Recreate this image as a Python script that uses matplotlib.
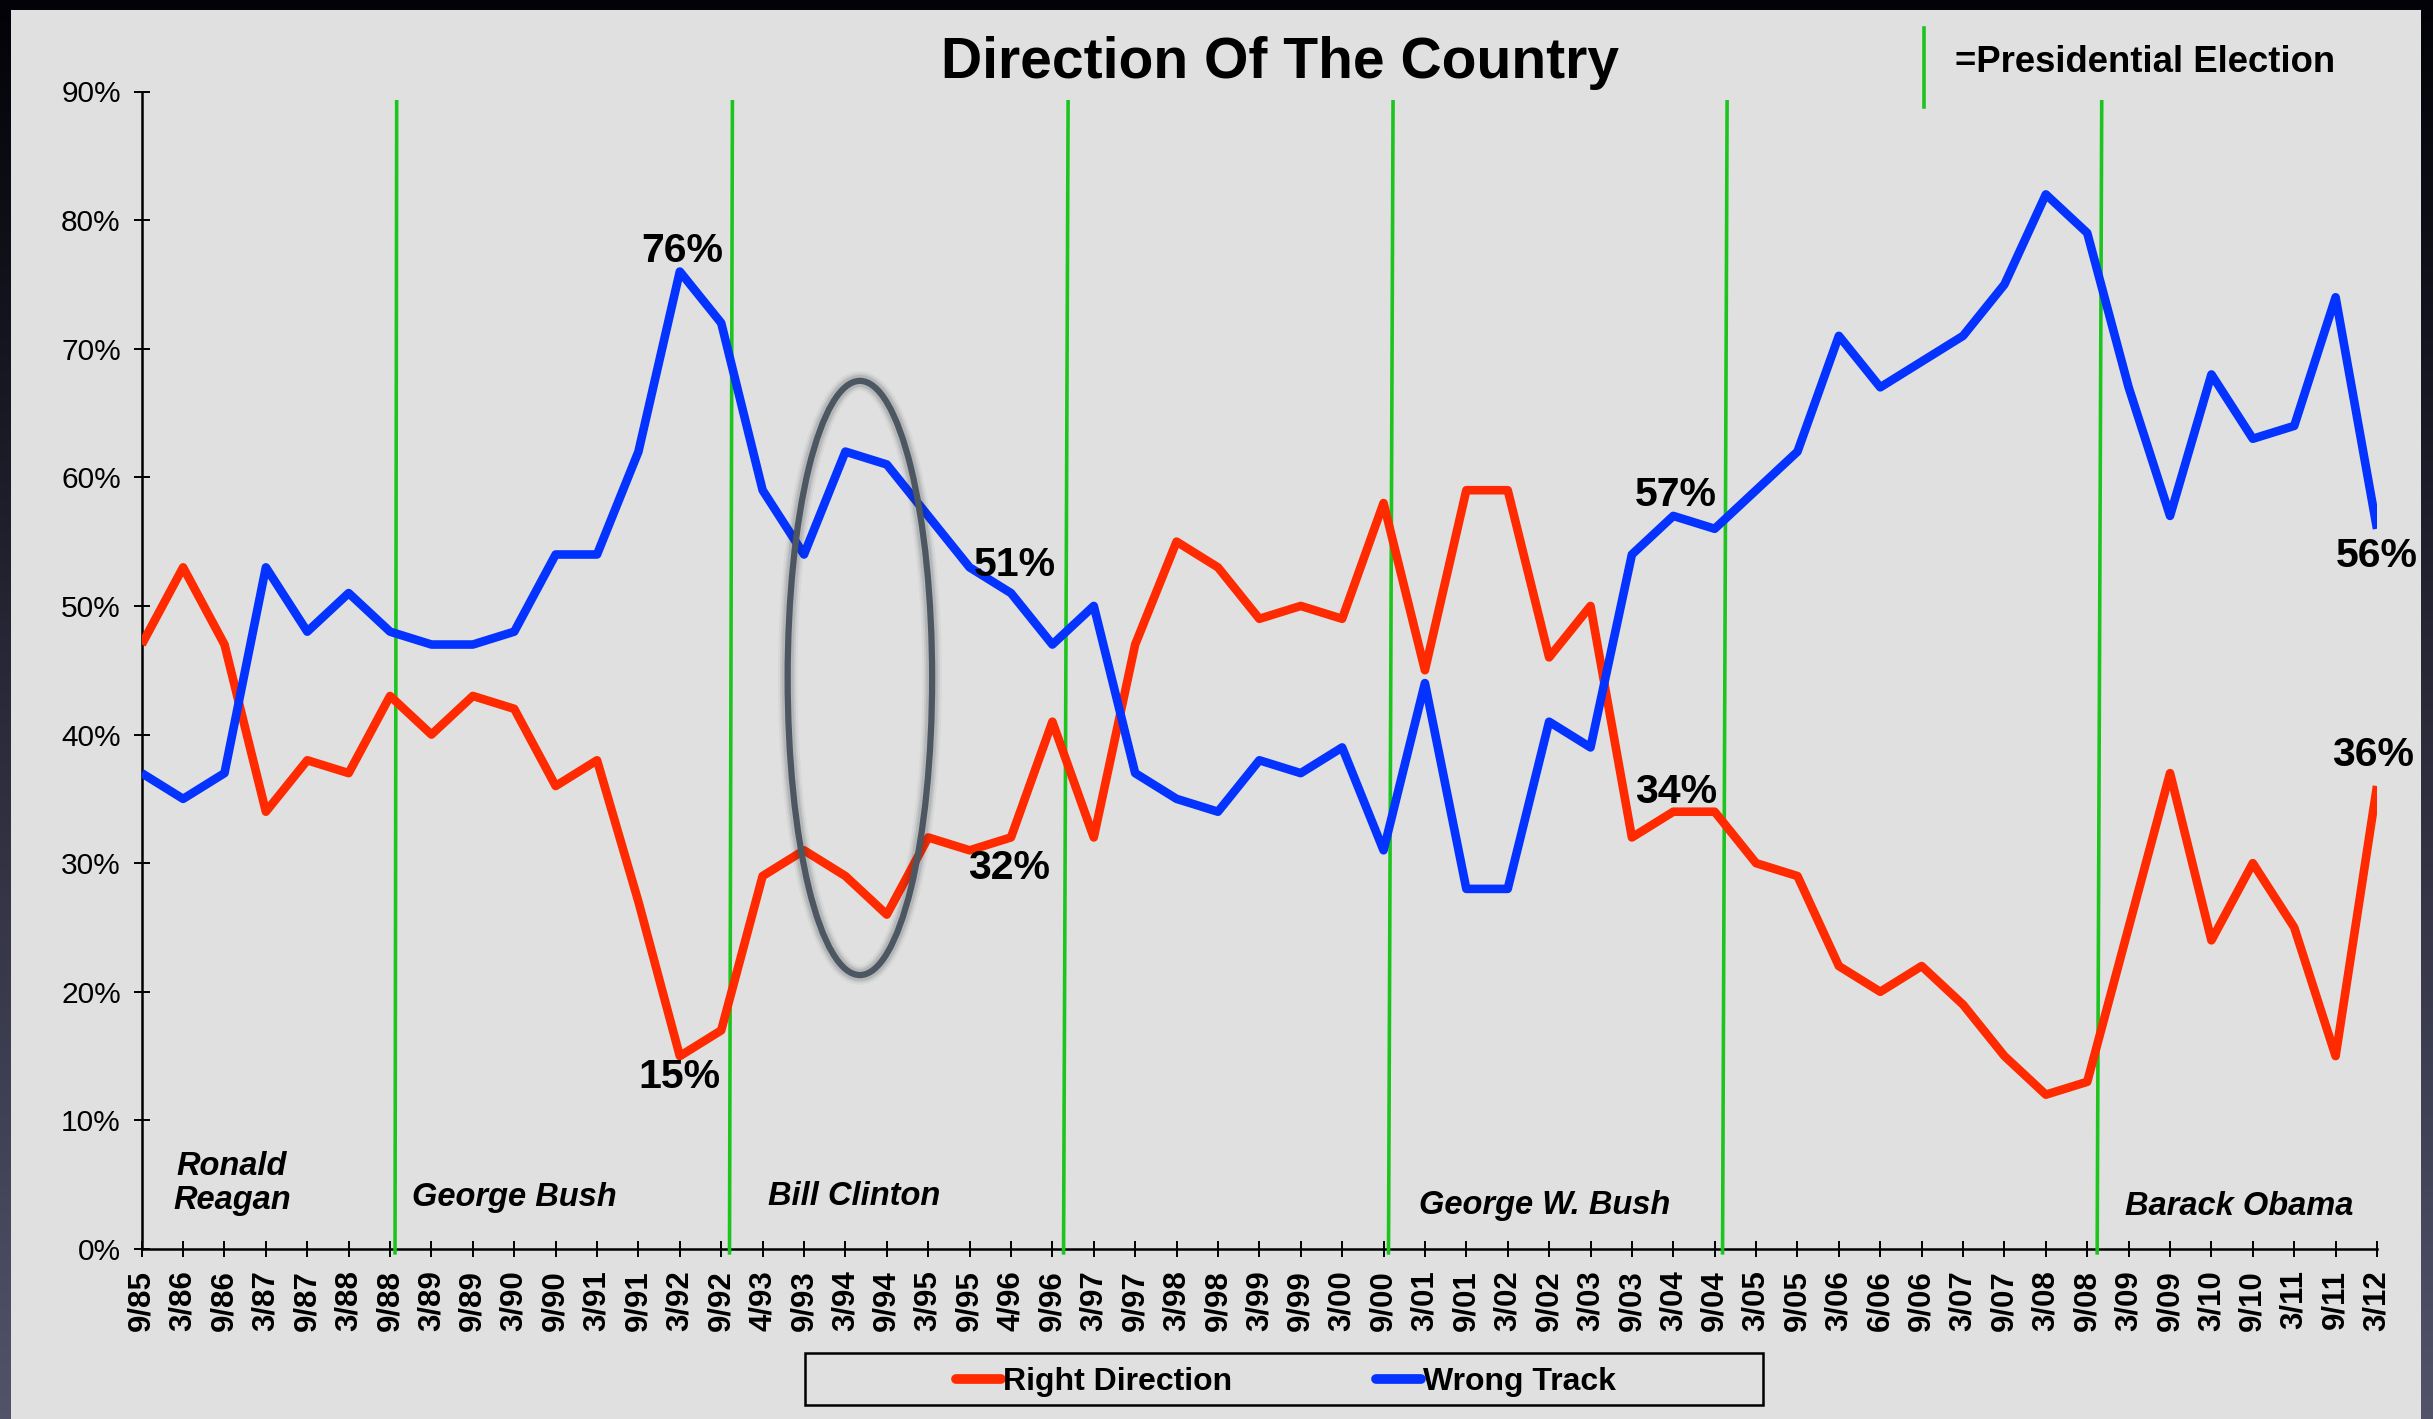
import matplotlib
matplotlib.use("Agg")
import matplotlib.pyplot as plt
import matplotlib.patches as patches
from matplotlib.lines import Line2D
import numpy as np

plt.rcParams['font.family'] = ['Liberation Sans', 'DejaVu Sans']

# ---- data ----
dates = ['9/85', '3/86', '9/86', '3/87', '9/87', '3/88', '9/88', '3/89', '9/89', '3/90',
         '9/90', '3/91', '9/91', '3/92', '9/92', '4/93', '9/93', '3/94', '9/94', '3/95',
         '9/95', '4/96', '9/96', '3/97', '9/97', '3/98', '9/98', '3/99', '9/99', '3/00',
         '9/00', '3/01', '9/01', '3/02', '9/02', '3/03', '9/03', '3/04', '9/04', '3/05',
         '9/05', '3/06', '6/06', '9/06', '3/07', '9/07', '3/08', '9/08', '3/09', '9/09',
         '3/10', '9/10', '3/11', '9/11', '3/12']

right_direction = [47, 53, 47, 34, 38, 37, 43, 40, 43, 42,
                   36, 38, 27, 15, 17, 29, 31, 29, 26, 32,
                   31, 32, 41, 32, 47, 55, 53, 49, 50, 49,
                   58, 45, 59, 59, 46, 50, 32, 34, 34, 30,
                   29, 22, 20, 22, 19, 15, 12, 13, 25, 37,
                   24, 30, 25, 15, 36]

wrong_track = [37, 35, 37, 53, 48, 51, 48, 47, 47, 48,
               54, 54, 62, 76, 72, 59, 54, 62, 61, 57,
               53, 51, 47, 50, 37, 35, 34, 38, 37, 39,
               31, 44, 28, 28, 41, 39, 54, 57, 56, 59,
               62, 71, 67, 69, 71, 75, 82, 79, 67, 57,
               68, 63, 64, 74, 56]

# election markers (hand drawn, slightly slanted): x at top / bottom
election_top = [6.16, 14.27, 22.38, 30.23, 38.30, 47.35]
election_bottom = [6.12, 14.20, 22.27, 30.12, 38.19, 47.24]

presidents = ['Ronald\nReagan', 'George Bush', 'Bill Clinton', 'George W. Bush', 'Barack Obama']
president_x = [2.18, 9.01, 17.2, 33.9, 50.66]
president_y = [5.1, 4.0, 4.1, 3.4, 3.3]

# callouts: (series, index, x offset, y offset)
callouts = [('wrong', 13, 0.07, 1.6), ('right', 13, -0.01, -1.6),
            ('wrong', 21, 0.1, 2.2), ('right', 21, -0.05, -2.4),
            ('wrong', 37, 0.06, 1.6), ('right', 37, 0.06, 1.5),
            ('wrong', 54, 0.0, -2.1), ('right', 54, -0.1, 2.4)]

RED = '#ff2a00'
BLUE = '#0433ff'
GREEN = '#1ec41e'
W, H = 2433, 1419

fig = plt.figure(figsize=(W / 100, H / 100), dpi=100)

# dark slide background + light grey panel
bg = fig.add_axes([0, 0, 1, 1])
grad = np.linspace(0, 1, 256).reshape(-1, 1)
bg.imshow(grad, extent=(0, 1, 0, 1), aspect='auto', origin='upper',
          cmap=matplotlib.colors.LinearSegmentedColormap.from_list('bgc', ['#020208', '#52526a']))
bg.add_patch(patches.Rectangle((11 / W, 0), (2421 - 11) / W, (H - 10) / H,
                               transform=bg.transAxes, facecolor='#e0e0e0', edgecolor='none'))
bg.set_xlim(0, 1)
bg.set_ylim(0, 1)
bg.axis('off')

ax = fig.add_axes([141.7 / W, (H - 1249) / H, (2377 - 141.7) / W, (1249 - 91.5) / H])
ax.set_facecolor('none')

x = np.arange(len(dates))
ax.plot(x, right_direction, color=RED, lw=6.2, solid_joinstyle='round',
        solid_capstyle='butt', label='Right Direction', zorder=4)
ax.plot(x, wrong_track, color=BLUE, lw=6.2, solid_joinstyle='round',
        solid_capstyle='butt', label='Wrong Track', zorder=4)

for xt, xb in zip(election_top, election_bottom):
    ax.plot([xb, xt], [-0.3, 89.2], color=GREEN, lw=2.6, zorder=3, clip_on=False)

# highlighted ellipse with soft shadow
for lw_s, a in [(14, 0.05), (11, 0.08), (8.5, 0.12)]:
    ax.add_patch(patches.Ellipse((17.35, 44.4), 3.49, 46.2, fill=False,
                                 edgecolor='#2a3038', lw=lw_s, alpha=a, zorder=5))
ax.add_patch(patches.Ellipse((17.35, 44.4), 3.49, 46.2, fill=False,
                             edgecolor='#4d5762', lw=4.5, zorder=6))

series = {'right': right_direction, 'wrong': wrong_track}
for name, i, dx, dy in callouts:
    v = series[name][i]
    ax.text(i + dx, v + dy, f'{v}%', ha='center', va='center', fontsize=29.5,
            fontweight='bold', clip_on=False, zorder=7)

for name, px, py in zip(presidents, president_x, president_y):
    ax.text(px, py, name, ha='center', va='center', fontsize=23.5, fontweight='bold',
            fontstyle='italic', linespacing=1.12, zorder=7)

ax.set_xlim(0, len(dates) - 1)
ax.set_ylim(0, 90)
ax.set_xticks(x)
ax.set_xticklabels(dates, rotation=90, fontsize=22.5, fontweight='bold', va='top')
ax.set_yticks(np.arange(0, 91, 10))
ax.set_yticklabels([f'{v}%' for v in range(0, 91, 10)], fontsize=21.5)
ax.tick_params(axis='both', direction='inout', length=12, width=1.4, color='black')
ax.tick_params(axis='x', pad=9)
ax.tick_params(axis='y', pad=9)
for s in ['top', 'right']:
    ax.spines[s].set_visible(False)
for s in ['left', 'bottom']:
    ax.spines[s].set_linewidth(1.8)

# title and election key
fig.text(1280 / W, 1 - 63 / H, 'Direction Of The Country', ha='center', va='center',
         fontsize=41, fontweight='bold')
fig.add_artist(Line2D([1924 / W, 1924 / W], [1 - 28 / H, 1 - 107 / H], color=GREEN, lw=2.6))
fig.text(1955 / W, 1 - 63 / H, '=Presidential Election', ha='left', va='center',
         fontsize=26.3, fontweight='bold')

# legend with a separate box
fig.add_artist(patches.Rectangle((805 / W, 1 - 1405 / H), (1763 - 805) / W, (1405 - 1353) / H,
                                 transform=fig.transFigure, facecolor='none',
                                 edgecolor='black', lw=1.8))
leg = fig.legend(loc='center', bbox_to_anchor=(1286 / W, 1 - 1382 / H), ncol=2,
                 frameon=False, handlelength=1.4, handletextpad=0.08,
                 columnspacing=4.5, prop={'weight': 'bold', 'size': 23})
for h in leg.legend_handles:
    h.set_solid_capstyle('round')
    h.set_linewidth(7)

fig.savefig('out.png', dpi=100)
